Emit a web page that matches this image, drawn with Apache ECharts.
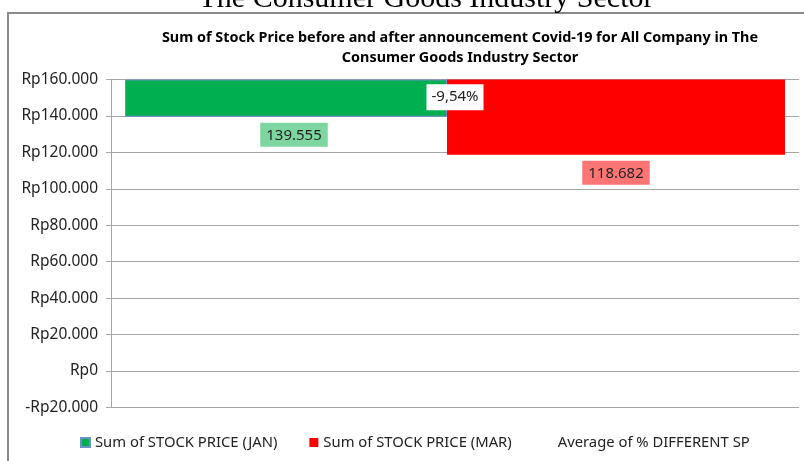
<!DOCTYPE html>
<html>
<head>
<meta charset="utf-8">
<script src="https://cdn.jsdelivr.net/npm/echarts@6/dist/echarts.min.js"></script>
<style>
  html, body { margin: 0; padding: 0; background: #fff; }
  #chart { width: 804px; height: 461px; }
</style>
</head>
<body>
<div id="chart"></div>
<script>
// values
const categories = ['Consumer Goods']
const janValues = [139555]
const marValues = [118682]
const diffValues = [-0.0954]
const seriesNames = ['Sum of STOCK PRICE (JAN)', 'Sum of STOCK PRICE (MAR)', 'Average of % DIFFERENT SP']
const yTicks = [-20000, 0, 20000, 40000, 60000, 80000, 100000, 120000, 140000, 160000]

// bars hang from the top of the axis (Excel "axis crosses at max")
const axisTop = yTicks[yTicks.length - 1]
const axisBottom = yTicks[0]

const fontUI = '"Noto Sans", "Open Sans", sans-serif'

function dots(v) {
    return Math.abs(v).toString().replace(/\B(?=(\d{3})+(?!\d))/g, '.')
}
function rp(v) {
    return (v < 0 ? '-Rp' : 'Rp') + dots(v)
}

const chart = echarts.init(document.getElementById('chart'))

chart.setOption({
    animation: false,
    title: {
        text: 'Sum of Stock Price before and after announcement Covid-19 for All Company in The\nConsumer Goods Industry Sector',
        left: 455,
        textAlign: 'center',
        top: 23,
        textStyle: { fontFamily: fontUI, fontWeight: 'bold', fontSize: 14.4, lineHeight: 20, color: '#000' }
    },
    graphic: [
        {
            type: 'rect',
            shape: { x: 8, y: 13, width: 900, height: 600 },
            style: { fill: 'none', stroke: '#8a8a8a', lineWidth: 2 },
            silent: true
        },
        {
            type: 'text',
            x: 426, y: 14,
            style: {
                text: 'The Consumer Goods Industry Sector',
                font: '30px "Liberation Serif", "Times New Roman", serif',
                fill: '#000',
                align: 'center',
                verticalAlign: 'bottom'
            },
            silent: true
        }
    ],
    legend: {
        bottom: 6,
        left: 75,
        itemWidth: 9,
        itemHeight: 9,
        itemGap: 32,
        textStyle: { fontFamily: fontUI, fontSize: 14.8, color: '#222' },
        data: [
            { name: seriesNames[0], icon: 'rect' },
            { name: seriesNames[1], icon: 'rect' },
            { name: seriesNames[2], icon: 'rect', itemStyle: { color: 'rgba(0,0,0,0)' } }
        ]
    },
    grid: { left: 111, right: 5, top: 79.5, bottom: 53.5, containLabel: false },
    xAxis: {
        type: 'category',
        data: categories,
        axisLine: { show: false },
        axisTick: { show: false },
        axisLabel: { show: false }
    },
    yAxis: [
        {
            type: 'value',
            min: axisBottom,
            max: axisTop,
            interval: 20000,
            axisLine: { show: true, lineStyle: { color: '#a6a6a6', width: 1 } },
            axisTick: { show: true, length: 5, lineStyle: { color: '#a6a6a6' } },
            splitLine: { lineStyle: { color: '#a6a6a6', width: 1 } },
            axisLabel: {
                formatter: rp,
                fontFamily: fontUI,
                fontSize: 15.5,
                color: '#222',
                margin: 13
            }
        },
        {
            type: 'value',
            min: -0.19,
            max: -0.09,
            show: false
        }
    ],
    series: [
        {
            name: 'jan-base',
            type: 'bar',
            stack: 'jan',
            barWidth: 322,
            barGap: '0%',
            silent: true,
            itemStyle: { color: 'rgba(0,0,0,0)' },
            data: janValues
        },
        {
            name: seriesNames[0],
            type: 'bar',
            stack: 'jan',
            barWidth: 322,
            barGap: '0%',
            itemStyle: { color: '#00b050', borderColor: '#6f8fc7', borderWidth: 1 },
            data: janValues.map(v => axisTop - v),
            label: {
                show: true,
                position: 'bottom',
                distance: 6,
                offset: [8, 0],
                formatter: p => dots(janValues[p.dataIndex]),
                backgroundColor: '#7dd6a0',
                padding: [5, 6, 4, 6],
                fontFamily: fontUI,
                fontSize: 15,
                color: '#222'
            }
        },
        {
            name: 'mar-base',
            type: 'bar',
            stack: 'mar',
            barWidth: 338,
            barGap: '0%',
            silent: true,
            itemStyle: { color: 'rgba(0,0,0,0)' },
            data: marValues
        },
        {
            name: seriesNames[1],
            type: 'bar',
            stack: 'mar',
            barWidth: 338,
            barGap: '0%',
            itemStyle: { color: '#ff0000' },
            data: marValues.map(v => axisTop - v),
            label: {
                show: true,
                position: 'bottom',
                distance: 6,
                formatter: p => dots(marValues[p.dataIndex]),
                backgroundColor: '#ff7575',
                padding: [5, 6, 4, 6],
                fontFamily: fontUI,
                fontSize: 15,
                color: '#222'
            }
        },
        {
            name: seriesNames[2],
            type: 'scatter',
            yAxisIndex: 1,
            symbolSize: 1,
            itemStyle: { color: 'rgba(0,0,0,0)' },
            data: diffValues,
            z: 10,
            label: {
                show: true,
                position: 'inside',
                formatter: p => (p.value * 100).toFixed(2).replace('.', ',') + '%',
                backgroundColor: '#ffffff',
                opacity: 1,
                padding: [6, 5, 5, 5],
                fontFamily: fontUI,
                fontSize: 15,
                color: '#222'
            }
        }
    ]
})
</script>
</body>
</html>
